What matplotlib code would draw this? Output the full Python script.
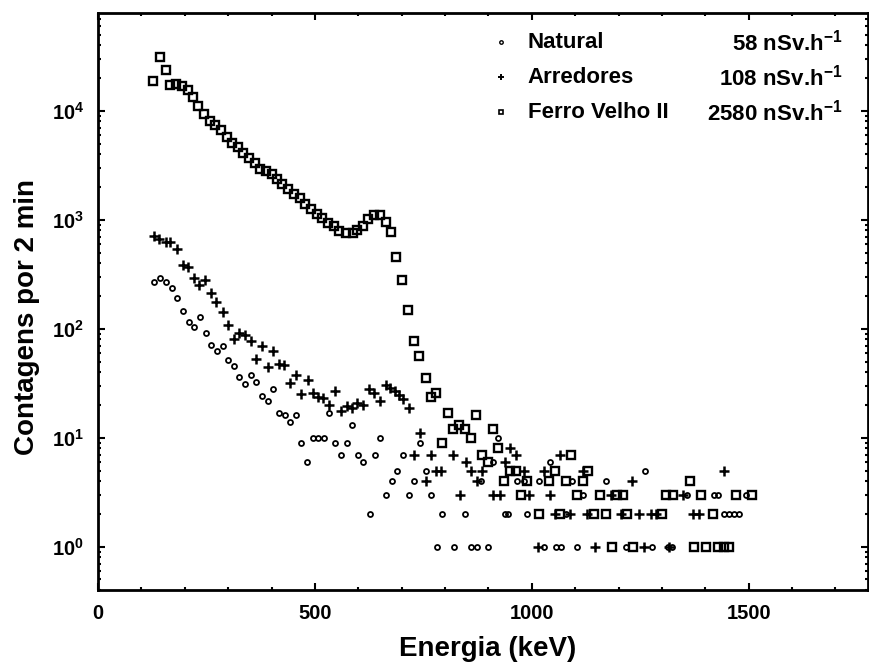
import numpy as np
import matplotlib
matplotlib.use('Agg')
import matplotlib.pyplot as plt
from matplotlib.ticker import MultipleLocator, LogLocator, NullFormatter

plt.rcParams['font.family'] = ['Liberation Sans', 'DejaVu Sans']
plt.rcParams['font.weight'] = 'bold'
plt.rcParams['mathtext.default'] = 'regular'

# Natural (58 nSv/h)
nat_e = [130, 143, 157, 170, 183, 196, 209, 222, 234, 248, 261, 274, 287, 300, 313,
         326, 339, 353, 364, 378, 391, 404, 417, 430, 443, 456, 469, 482, 495, 507,
         520, 533, 547, 560, 573, 586, 599, 612, 626, 638, 650, 664, 677, 690, 703,
         716, 729, 743, 756, 767, 781, 794, 821, 846, 859, 873, 882, 899, 911, 923,
         938, 946, 967, 981, 990, 1017, 1028, 1041, 1055, 1067, 1078, 1093, 1105, 1119,
         1171, 1217, 1260, 1278, 1313, 1324, 1357, 1420, 1429, 1443, 1455, 1466, 1478, 1493]
nat_c = [271, 290, 268, 236, 192, 145, 115, 104, 128, 91, 71, 62, 69, 52, 46,
         36, 31, 38, 32.5, 24.3, 21.8, 28, 17, 16, 14, 16, 9, 6, 10, 10,
         10, 17, 9, 7, 9, 13, 7, 6, 2, 7, 10, 3, 4, 5, 7,
         3, 4, 9, 5, 3, 1, 2, 1, 2, 1, 1, 4, 1, 6, 10,
         2, 2, 4, 4, 2, 4, 1, 6, 1, 1, 2, 4, 1, 3,
         4, 1, 5, 1, 1, 1, 3, 3, 3, 2, 2, 2, 2, 3]

# Arredores (108 nSv/h)
arr_e = [130, 141, 157, 167, 182, 197, 207, 222, 233, 247, 260, 273, 287, 299, 313,
         326, 339, 353, 364, 378, 391, 403, 418, 429, 443, 456, 469, 483, 495, 507,
         519, 533, 546, 560, 573, 585, 598, 610, 625, 637, 650, 664, 673, 684, 694,
         704, 716, 729, 743, 756, 767, 779, 790, 819, 834, 848, 859, 873, 886, 911,
         926, 938, 950, 963, 981, 994, 1015, 1028, 1042, 1053, 1066, 1089, 1119, 1128,
         1146, 1182, 1205, 1230, 1247, 1259, 1274, 1286, 1316, 1349, 1372, 1385, 1443]
arr_c = [718, 670, 630, 630, 540, 385, 370, 292, 253, 280, 215, 175, 144, 109, 80,
         91, 87, 78, 53, 69, 45, 62, 48, 47, 32, 38, 25, 34, 26, 23.5,
         23.2, 19.8, 26.6, 17.6, 19.4, 18.8, 20.9, 19.8, 28, 25.8, 21.6, 30.5, 28.5, 26.6, 24.8,
         22.8, 18.7, 7, 11, 4, 7, 5, 5, 7, 3, 6, 5, 4, 5, 3,
         3, 6, 8, 7, 5, 3, 1, 5, 3, 2, 7, 2, 5, 2,
         1, 3, 2, 4, 2, 1, 2, 2, 1, 3, 2, 2, 5]

# Ferro Velho II (2580 nSv/h)
fv_e = [127, 142, 156, 167, 180, 193, 207, 220, 231, 245, 257, 270, 283, 297, 309,
        322, 335, 348, 361, 374, 387, 400, 412, 425, 438, 452, 465, 478, 491, 504,
        517, 530, 543, 556, 571, 587, 598, 610, 623, 636, 649, 663, 675, 688, 701,
        715, 728, 741, 755, 767, 780, 793, 807, 819, 833, 846, 859, 872, 885, 898,
        910, 923, 937, 950, 963, 976, 989, 1016, 1040, 1054, 1065, 1080, 1091, 1105, 1119,
        1129, 1144, 1158, 1172, 1184, 1197, 1211, 1220, 1234, 1301, 1310, 1326, 1365, 1373,
        1389, 1402, 1418, 1429, 1442, 1455, 1470, 1508]
fv_c = [19000, 31000, 23500, 17400, 17800, 16900, 15500, 13400, 11200, 9300, 8100, 7400, 6700, 5800, 5100,
        4650, 4150, 3700, 3300, 2940, 2830, 2640, 2390, 2130, 1910, 1740, 1590, 1410, 1260, 1140,
        1030, 940, 870, 795, 765, 765, 800, 870, 1010, 1110, 1100, 960, 775, 455, 278,
        150, 78, 56, 35.5, 23.6, 26, 9, 17, 12, 13, 12, 10, 16, 7, 6,
        12, 8, 4, 5, 5, 3, 4, 2, 4, 5, 2, 4, 7, 3, 4,
        5, 2, 3, 2, 1, 3, 3, 2, 1, 2, 3, 3, 4, 1,
        3, 1, 2, 1, 1, 1, 3, 3]

legend_names = ['Natural', 'Arredores', 'Ferro Velho II']
legend_rates = ['58 nSv.h$^{-1}$', '108 nSv.h$^{-1}$', '2580 nSv.h$^{-1}$']

fig = plt.figure(figsize=(8.69, 6.72), dpi=100)
ax = fig.add_axes([0.1128, 0.122, 0.886, 0.8585])

ax.plot(nat_e, nat_c, 'o', ms=3.6, mfc='none', mec='black', mew=1.3, ls='none')
ax.plot(arr_e, arr_c, '+', ms=7.5, mec='black', mew=1.8, ls='none')
ax.plot(fv_e, fv_c, 's', ms=5.5, mfc='none', mec='black', mew=1.7, ls='none')

ax.set_yscale('log')
ax.set_xlim(0, 1775)
ax.set_ylim(0.4, 79000)

ax.xaxis.set_major_locator(MultipleLocator(500))
ax.xaxis.set_minor_locator(MultipleLocator(100))
ax.yaxis.set_major_locator(LogLocator(base=10, numticks=10))
ax.yaxis.set_minor_locator(LogLocator(base=10, subs=np.arange(2, 10), numticks=20))
ax.yaxis.set_minor_formatter(NullFormatter())

ax.tick_params(which='both', direction='in', top=True, right=True, width=1.5, labelsize=14.5)
ax.tick_params(which='major', length=5, pad=10)
ax.tick_params(which='minor', length=2.5)
for s in ax.spines.values():
    s.set_linewidth(2)

ax.set_xlabel('Energia (keV)', fontsize=20, fontweight='bold')
ax.set_ylabel('Contagens por 2 min', fontsize=20, fontweight='bold')
ax.xaxis.set_label_coords(0.506, -0.08)
ax.yaxis.set_label_coords(-0.0755, 0.473)

# legend drawn by hand: marker, name, dose rate
ys = [0.9497, 0.889, 0.828]
mk = [dict(marker='o', ms=2.5, mfc='none', mew=1.0),
      dict(marker='+', ms=5, mew=1.4),
      dict(marker='s', ms=3.5, mfc='none', mew=1.2)]
for y, name, rate, m in zip(ys, legend_names, legend_rates, mk):
    ax.plot([0.523], [y], transform=ax.transAxes, color='black', mec='black', ls='none', **m)
    ax.text(0.558, y, name, transform=ax.transAxes, fontsize=16, ha='left', va='center')
    ax.text(0.9675, y, rate, transform=ax.transAxes, fontsize=16, ha='right', va='center')

fig.savefig('out.png', dpi=100, facecolor='white')
